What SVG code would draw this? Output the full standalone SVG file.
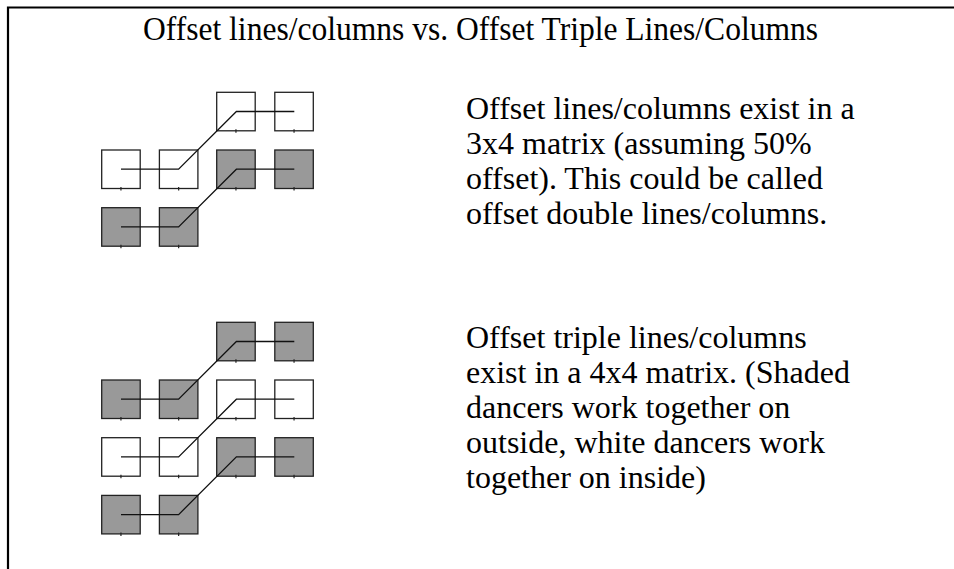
<svg xmlns="http://www.w3.org/2000/svg" width="954" height="569" viewBox="0 0 954 569">
<style>
.frame{stroke:#000;stroke-width:2.2;fill:none}
.d{stroke:#222;stroke-width:1.3}
.w{fill:#fff}
.g{fill:#999}
.tick{stroke:#222;stroke-width:1.2}
.c{fill:none;stroke:#111;stroke-width:1.3}
text{font-family:"Liberation Serif","Times New Roman",serif;fill:#000}
.title{font-size:34px}
.body{font-size:32px}
</style>
<rect width="954" height="569" fill="#fff"/>
<path class="frame" d="M8,569 V7.5 H954"/>
<text class="title" x="143" y="39.5" textLength="675" lengthAdjust="spacingAndGlyphs">Offset lines/columns vs. Offset Triple Lines/Columns</text>
<defs>
<g id="tk"><line class="tick" x1="19.25" y1="37" x2="19.25" y2="40.5"/></g>
</defs>
<g id="diagram1">
<g id="d1r1c3"><rect class="d w" x="216.7" y="92.3" width="38.5" height="38.5"/><use href="#tk" x="216.7" y="92.3"/></g>
<g id="d1r1c4"><rect class="d w" x="274.8" y="92.3" width="38.5" height="38.5"/><use href="#tk" x="274.8" y="92.3"/></g>
<g id="d1r2c1"><rect class="d w" x="101.7" y="150" width="38.5" height="38.5"/><use href="#tk" x="101.7" y="150"/></g>
<g id="d1r2c2"><rect class="d w" x="159.4" y="150" width="38.5" height="38.5"/><use href="#tk" x="159.4" y="150"/></g>
<g id="d1r2c3"><rect class="d g" x="216.7" y="150" width="38.5" height="38.5"/><use href="#tk" x="216.7" y="150"/></g>
<g id="d1r2c4"><rect class="d g" x="274.8" y="150" width="38.5" height="38.5"/><use href="#tk" x="274.8" y="150"/></g>
<g id="d1r3c1"><rect class="d g" x="101.7" y="207.7" width="38.5" height="38.5"/><use href="#tk" x="101.7" y="207.7"/></g>
<g id="d1r3c2"><rect class="d g" x="159.4" y="207.7" width="38.5" height="38.5"/><use href="#tk" x="159.4" y="207.7"/></g>
</g>
<g id="diagram2">
<g id="d2r1c3"><rect class="d g" x="216.7" y="322.3" width="38.5" height="38.5"/><use href="#tk" x="216.7" y="322.3"/></g>
<g id="d2r1c4"><rect class="d g" x="274.8" y="322.3" width="38.5" height="38.5"/><use href="#tk" x="274.8" y="322.3"/></g>
<g id="d2r2c1"><rect class="d g" x="101.7" y="380" width="38.5" height="38.5"/><use href="#tk" x="101.7" y="380"/></g>
<g id="d2r2c2"><rect class="d g" x="159.4" y="380" width="38.5" height="38.5"/><use href="#tk" x="159.4" y="380"/></g>
<g id="d2r2c3"><rect class="d w" x="216.7" y="380" width="38.5" height="38.5"/><use href="#tk" x="216.7" y="380"/></g>
<g id="d2r2c4"><rect class="d w" x="274.8" y="380" width="38.5" height="38.5"/><use href="#tk" x="274.8" y="380"/></g>
<g id="d2r3c1"><rect class="d w" x="101.7" y="437.7" width="38.5" height="38.5"/><use href="#tk" x="101.7" y="437.7"/></g>
<g id="d2r3c2"><rect class="d w" x="159.4" y="437.7" width="38.5" height="38.5"/><use href="#tk" x="159.4" y="437.7"/></g>
<g id="d2r3c3"><rect class="d g" x="216.7" y="437.7" width="38.5" height="38.5"/><use href="#tk" x="216.7" y="437.7"/></g>
<g id="d2r3c4"><rect class="d g" x="274.8" y="437.7" width="38.5" height="38.5"/><use href="#tk" x="274.8" y="437.7"/></g>
<g id="d2r4c1"><rect class="d g" x="101.7" y="495.4" width="38.5" height="38.5"/><use href="#tk" x="101.7" y="495.4"/></g>
<g id="d2r4c2"><rect class="d g" x="159.4" y="495.4" width="38.5" height="38.5"/><use href="#tk" x="159.4" y="495.4"/></g>
</g>
<g id="connectors">
<path class="c" d="M121,169.2 H178.6 L236.4,111.5 H294.3"/>
<path class="c" d="M121,226.9 H178.6 L236.4,169.2 H294.3"/>
<path class="c" d="M121,399.2 H178.6 L236.4,341.5 H294.3"/>
<path class="c" d="M121,456.9 H178.6 L236.4,399.2 H294.3"/>
<path class="c" d="M121,514.6 H178.6 L236.4,456.9 H294.3"/>
</g>
<g id="text1">
<text class="body" x="466" y="119">Offset lines/columns exist in a</text>
<text class="body" x="466" y="154">3x4 matrix (assuming 50%</text>
<text class="body" x="466" y="189">offset). This could be called</text>
<text class="body" x="466" y="224">offset double lines/columns.</text>
</g>
<g id="text2">
<text class="body" x="466" y="348">Offset triple lines/columns</text>
<text class="body" x="466" y="383">exist in a 4x4 matrix. (Shaded</text>
<text class="body" x="466" y="418">dancers work together on</text>
<text class="body" x="466" y="453">outside, white dancers work</text>
<text class="body" x="466" y="488">together on inside)</text>
</g>
</svg>
